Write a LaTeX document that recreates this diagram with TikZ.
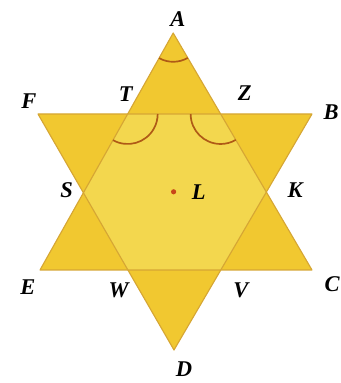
\documentclass[tikz,border=0pt]{standalone}
\usepackage{fontspec}
\setmainfont{Liberation Serif}
\usepackage{tikz}
\usetikzlibrary{calc}
\usepackage{tkz-euclide}
\definecolor{tipgold}{RGB}{241,200,48}
\definecolor{hexgold}{RGB}{243,215,78}
\definecolor{edgegold}{RGB}{214,166,52}
\definecolor{arcbrown}{RGB}{175,90,22}
\definecolor{dotred}{RGB}{200,70,25}

\begin{document}
\begin{tikzpicture}[lbl/.style={font=\fontsize{16}{18}\selectfont\bfseries\itshape, inner sep=0pt}]
                \useasboundingbox (0,0) rectangle (8.525,9.575);
                \tkzDefPoint(4.33,8.75){A}
                \tkzDefPoint(1.0,2.825){E}
                \tkzDefPoint(7.8,2.825){C}
                \tkzDefPoint(0.95,6.725){F}
                \tkzDefPoint(7.8,6.725){B}
                \tkzDefPoint(4.35,0.825){D}
                \tkzDefPoint(4.34,4.78){L}
                \tkzInterLL(A,E)(F,B) \tkzGetPoint{T}
                \tkzInterLL(A,C)(F,B) \tkzGetPoint{Z}
                \tkzInterLL(A,E)(F,D) \tkzGetPoint{S}
                \tkzInterLL(A,C)(B,D) \tkzGetPoint{K}
                \tkzInterLL(E,C)(F,D) \tkzGetPoint{W}
                \tkzInterLL(E,C)(B,D) \tkzGetPoint{V}
                % the two triangles, the hexagon lighter
                \tkzFillPolygon[fill=tipgold](A,E,C)
                \tkzFillPolygon[fill=tipgold](F,B,D)
                \tkzFillPolygon[fill=hexgold](T,S,W,V,K,Z)
                \tkzDrawPolygon[edgegold, line width=0.8pt](A,E,C)
                \tkzDrawPolygon[edgegold, line width=0.8pt](F,B,D)
                \tkzMarkAngle[arcbrown, line width=1.2pt, size=0.72](E,A,C)
                \tkzMarkAngle[arcbrown, line width=1.2pt, size=0.75](S,T,Z)
                \tkzMarkAngle[arcbrown, line width=1.2pt, size=0.75](T,Z,K)
                \fill[dotred] (L) circle (0.065);
                \node[lbl] (lA) at ($(A)+(0.12,0.35)$) {A};
                \node[lbl] (lF) at ($(F)+(-0.23,0.33)$) {F};
                \node[lbl] (lB) at ($(B)+(0.48,0.05)$) {B};
                \node[lbl] (lT) at ($(T)+(-0.05,0.5)$) {T};
                \node[lbl] (lZ) at ($(Z)+(0.6,0.52)$) {Z};
                \node[lbl] (lS) at ($(S)+(-0.42,0.07)$) {S};
                \node[lbl] (lK) at ($(K)+(0.72,0.05)$) {K};
                \node[lbl] (lL) at ($(L)+(0.63,0)$) {L};
                \node[lbl] (lE) at ($(E)+(-0.3,-0.42)$) {E};
                \node[lbl] (lW) at ($(W)+(-0.23,-0.52)$) {W};
                \node[lbl] (lV) at ($(V)+(0.5,-0.52)$) {V};
                \node[lbl] (lC) at ($(C)+(0.5,-0.35)$) {C};
                \node[lbl] (lD) at ($(D)+(0.25,-0.47)$) {D};
            \end{tikzpicture}
\end{document}
